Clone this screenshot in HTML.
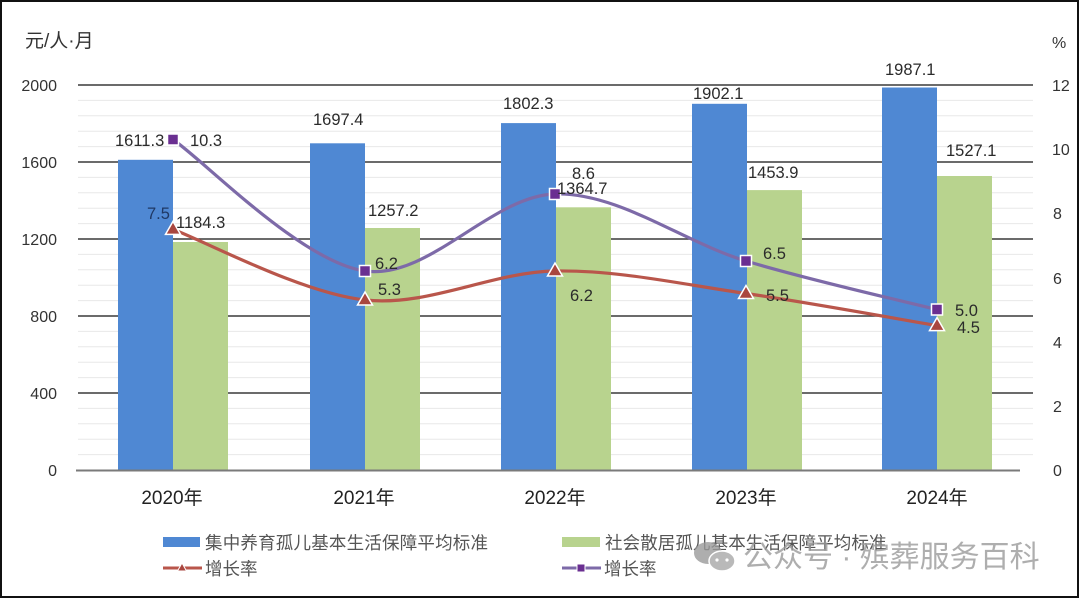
<!DOCTYPE html>
<html><head><meta charset="utf-8"><style>
html,body{margin:0;padding:0;background:#fff;}
svg{display:block;}
text{font-family:"Liberation Sans","Noto Sans CJK SC",sans-serif;}
</style></head><body>
<svg width="1080" height="599" viewBox="0 0 1080 599" xmlns="http://www.w3.org/2000/svg">
<rect x="0" y="0" width="1080" height="599" fill="#fff"/>
<!-- minor gridlines -->
<g stroke="#e8e8e8" stroke-width="1">
<line x1="78" x2="1033" y1="100.4" y2="100.4"/><line x1="78" x2="1033" y1="115.8" y2="115.8"/><line x1="78" x2="1033" y1="131.2" y2="131.2"/><line x1="78" x2="1033" y1="146.6" y2="146.6"/>
<line x1="78" x2="1033" y1="177.4" y2="177.4"/><line x1="78" x2="1033" y1="192.8" y2="192.8"/><line x1="78" x2="1033" y1="208.2" y2="208.2"/><line x1="78" x2="1033" y1="223.6" y2="223.6"/>
<line x1="78" x2="1033" y1="254.4" y2="254.4"/><line x1="78" x2="1033" y1="269.8" y2="269.8"/><line x1="78" x2="1033" y1="285.2" y2="285.2"/><line x1="78" x2="1033" y1="300.6" y2="300.6"/>
<line x1="78" x2="1033" y1="331.4" y2="331.4"/><line x1="78" x2="1033" y1="346.8" y2="346.8"/><line x1="78" x2="1033" y1="362.2" y2="362.2"/><line x1="78" x2="1033" y1="377.6" y2="377.6"/>
<line x1="78" x2="1033" y1="408.4" y2="408.4"/><line x1="78" x2="1033" y1="423.8" y2="423.8"/><line x1="78" x2="1033" y1="439.2" y2="439.2"/><line x1="78" x2="1033" y1="454.6" y2="454.6"/>
</g>
<!-- major gridlines -->
<g stroke="#3a3a3a" stroke-width="1.4">
<line x1="78" x2="1033" y1="85" y2="85"/>
<line x1="78" x2="1033" y1="162" y2="162"/>
<line x1="78" x2="1033" y1="239" y2="239"/>
<line x1="78" x2="1033" y1="316" y2="316"/>
<line x1="78" x2="1033" y1="393" y2="393"/>
</g>
<!-- bars blue -->
<g fill="#4f88d3">
<rect x="118" y="159.8" width="55" height="310.2"/>
<rect x="310" y="143.3" width="55" height="326.7"/>
<rect x="501" y="123.1" width="55" height="346.9"/>
<rect x="692" y="103.8" width="55" height="366.2"/>
<rect x="882" y="87.5" width="55" height="382.5"/>
</g>
<g fill="#b8d38e">
<rect x="173" y="242" width="55" height="228"/>
<rect x="365" y="228" width="55" height="242"/>
<rect x="556" y="207.3" width="55" height="262.7"/>
<rect x="747" y="190.1" width="55" height="279.9"/>
<rect x="937" y="176" width="55" height="294"/>
</g>
<line x1="76" x2="1020" y1="470.5" y2="470.5" stroke="#7a7a7a" stroke-width="2"/>
<!-- red line -->
<path d="M173,229.4 C205,241.2 301.3,293.1 365,300 C428.7,306.9 491.5,272.1 555,271 C618.5,269.9 682.3,284.4 746,293.5 C809.7,302.6 905.2,320.3 937,325.6" fill="none" stroke="#b9564b" stroke-width="3.2"/>
<!-- purple line -->
<path d="M173,139.5 C205,161.4 301.3,261.9 365,271 C428.7,280.1 491.5,195.7 555,194 C618.5,192.3 682.3,241.7 746,261 C809.7,280.3 905.2,301.5 937,309.6" fill="none" stroke="#7d6aa8" stroke-width="3.2"/>
<!-- red markers -->
<g fill="#a9463f" stroke="#fff" stroke-width="1.5">
<path d="M173,221.4 L180.5,234.4 L165.5,234.4 Z"/>
<path d="M365,292 L372.5,305 L357.5,305 Z"/>
<path d="M555,263 L562.5,276 L547.5,276 Z"/>
<path d="M746,285.5 L753.5,298.5 L738.5,298.5 Z"/>
<path d="M937,317.6 L944.5,330.6 L929.5,330.6 Z"/>
</g>
<!-- purple markers -->
<g fill="#6a2f91" stroke="#fff" stroke-width="1.5">
<rect x="167.5" y="134" width="11" height="11"/>
<rect x="359.5" y="265.5" width="11" height="11"/>
<rect x="549.5" y="188.5" width="11" height="11"/>
<rect x="740.5" y="255.5" width="11" height="11"/>
<rect x="931.5" y="304" width="11" height="11"/>
</g>
<!-- data labels -->
<g font-size="16.5" fill="#2b2b2b">
<text x="115" y="146">1611.3</text>
<text x="190" y="146">10.3</text>
<text x="147" y="219" fill="#1f3864">7.5</text>
<text x="176" y="228">1184.3</text>
<text x="313" y="125">1697.4</text>
<text x="368" y="216">1257.2</text>
<text x="375" y="269">6.2</text>
<text x="378" y="295">5.3</text>
<text x="503" y="109">1802.3</text>
<text x="572" y="179">8.6</text>
<text x="557" y="194">1364.7</text>
<text x="570" y="301">6.2</text>
<text x="693" y="99">1902.1</text>
<text x="748" y="178">1453.9</text>
<text x="763" y="259">6.5</text>
<text x="766" y="301">5.5</text>
<text x="885" y="75">1987.1</text>
<text x="946" y="156">1527.1</text>
<text x="955" y="316">5.0</text>
<text x="957" y="333">4.5</text>
</g>
<!-- axis labels -->
<g font-size="16" fill="#333" text-anchor="end">
<text x="57" y="91">2000</text>
<text x="57" y="168">1600</text>
<text x="57" y="245">1200</text>
<text x="57" y="322">800</text>
<text x="57" y="399">400</text>
<text x="57" y="476">0</text>
</g>
<g font-size="16" fill="#333">
<text x="1052" y="91">12</text>
<text x="1052" y="155">10</text>
<text x="1053" y="219">8</text>
<text x="1053" y="284">6</text>
<text x="1053" y="348">4</text>
<text x="1053" y="412">2</text>
<text x="1053" y="476">0</text>
<text x="1052" y="48">%</text>
</g>
<text x="25" y="47" font-size="19" fill="#333">元/人·月</text>
<g font-size="19" fill="#222" text-anchor="middle">
<text x="172" y="504">2020年</text>
<text x="364" y="504">2021年</text>
<text x="555" y="504">2022年</text>
<text x="746" y="504">2023年</text>
<text x="937" y="504">2024年</text>
</g>
<!-- legend -->
<rect x="163" y="537" width="37" height="10" fill="#4f88d3"/>
<text x="205" y="549" font-size="17.5" fill="#555" letter-spacing="0.2">集中养育孤儿基本生活保障平均标准</text>
<line x1="163" x2="202" y1="568" y2="568" stroke="#b9564b" stroke-width="3"/>
<path d="M182,563 L186.5,571 L177.5,571 Z" fill="#a9463f" stroke="#fff" stroke-width="1"/>
<text x="205" y="575" font-size="17.5" fill="#555">增长率</text>
<rect x="562" y="537" width="38" height="10" fill="#b8d38e"/>
<text x="605" y="549" font-size="17.5" fill="#555" letter-spacing="0.1">社会散居孤儿基本生活保障平均标准</text>
<line x1="562" x2="601" y1="568" y2="568" stroke="#7d6aa8" stroke-width="3"/>
<rect x="577" y="564" width="8" height="8" fill="#6a2f91" stroke="#fff" stroke-width="1"/>
<text x="604" y="575" font-size="17.5" fill="#555">增长率</text>
<!-- watermark -->
<g opacity="0.8">
<ellipse cx="708" cy="553" rx="14" ry="11" fill="#9a9a9a"/>
<ellipse cx="722" cy="561" rx="13" ry="10" fill="#a8a8a8" stroke="#fff" stroke-width="1.5"/>
<circle cx="717" cy="560" r="1.6" fill="#fff"/><circle cx="727" cy="560" r="1.6" fill="#fff"/>
<text x="743" y="567" font-size="30" fill="#9a9a9a">公众号 · 殡葬服务百科</text>
</g>
<!-- frame -->
<rect x="1" y="1" width="1077" height="596" fill="none" stroke="#111" stroke-width="2"/>
</svg>
</body></html>
